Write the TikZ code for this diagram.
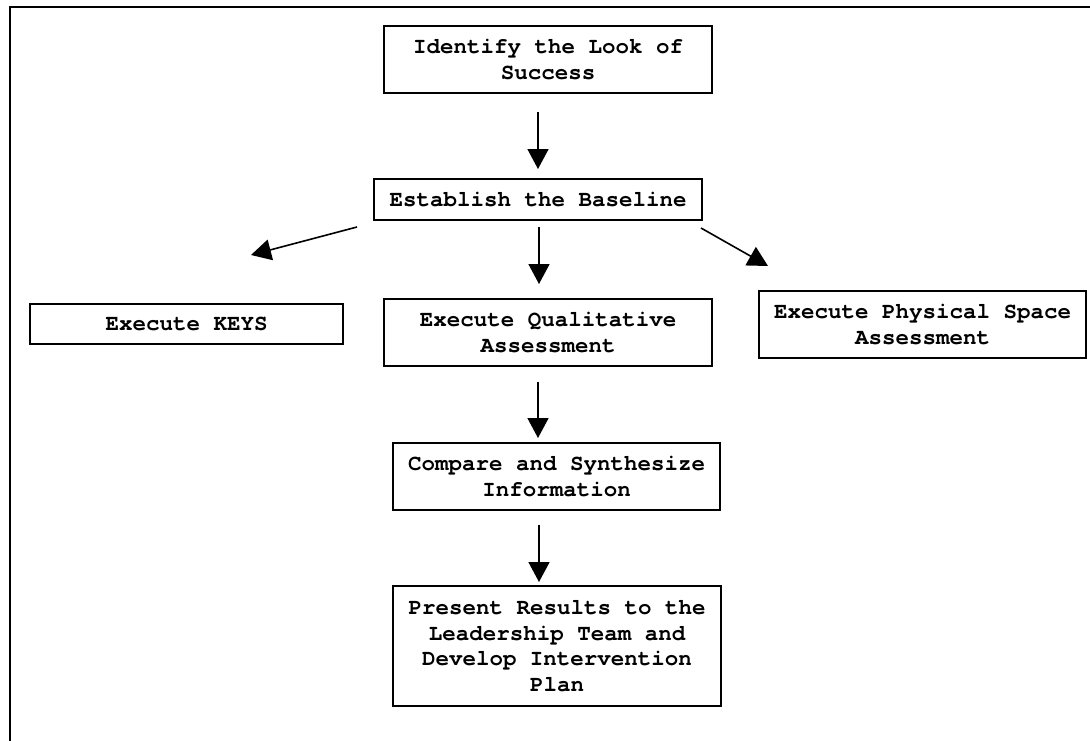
\documentclass[tikz,border=0pt]{standalone}
\usepackage{fontspec}
\setmonofont{TeX Gyre Cursor}
\usetikzlibrary{arrows.meta}
\tikzset{
  stepbox/.style={draw, line width=1.6pt, inner sep=0pt, align=center,
    font=\ttfamily\bfseries\fontsize{22.5}{25.5}\selectfont},
  flowarrow/.style={line width=1.6pt, -{Triangle[length=20pt,width=21pt]}},
  frameline/.style={line width=2.2pt}
}
\begin{document}
\begin{tikzpicture}[x=1pt,y=-1pt]
\useasboundingbox (0,0) rectangle (1090,740);
\draw[frameline] (10,760) -- (10,7) -- (1110,7);

\node[stepbox, minimum width=328pt, minimum height=67pt] (b1) at (548,59.5) {Identify the Look of\\Success};
\node[stepbox, minimum width=328pt, minimum height=41pt] (b2) at (538,199.5) {Establish the Baseline};
\node[stepbox, minimum width=313pt, minimum height=40pt] (b3) at (186.5,324) {Execute KEYS};
\node[stepbox, minimum width=328pt, minimum height=67pt] (b4) at (548,332.5) {Execute Qualitative\\Assessment};
\node[stepbox, minimum width=327pt, minimum height=67pt] (b5) at (922.5,324.5) {Execute Physical Space\\Assessment};
\node[stepbox, minimum width=327pt, minimum height=67pt] (b6) at (556.5,476.5) {Compare and Synthesize\\Information};
\node[stepbox, minimum width=328pt, minimum height=120pt] (b7) at (557,646) {Present Results to the\\Leadership Team and\\Develop Intervention\\Plan};

\coordinate (a1s) at (538,112);
\coordinate (a1e) at (538,169);
\coordinate (a2s) at (539,227);
\coordinate (a2e) at (539,284);
\coordinate (a3s) at (357,227);
\coordinate (a3e) at (251,255);
\coordinate (a4s) at (701,228);
\coordinate (a4e) at (768,266);
\coordinate (a5s) at (538,382);
\coordinate (a5e) at (538,438);
\coordinate (a6s) at (539,525);
\coordinate (a6e) at (539,582);

\draw[flowarrow] (a1s) -- (a1e);
\draw[flowarrow] (a2s) -- (a2e);
\draw[flowarrow] (a3s) -- (a3e);
\draw[flowarrow] (a4s) -- (a4e);
\draw[flowarrow] (a5s) -- (a5e);
\draw[flowarrow] (a6s) -- (a6e);
\end{tikzpicture}
\end{document}
